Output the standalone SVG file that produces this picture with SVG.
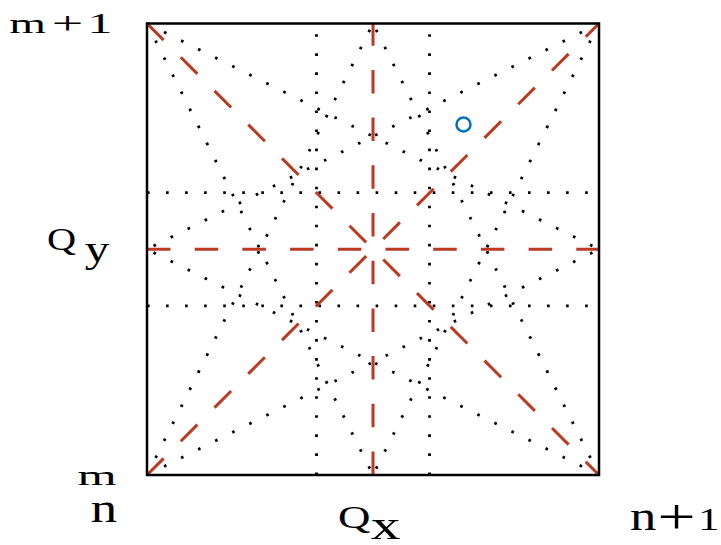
<svg xmlns="http://www.w3.org/2000/svg" width="721" height="545" viewBox="0 0 721 545">
<style>
.bg{fill:#ffffff}
.frame{fill:none;stroke:#000;stroke-width:2.5}
.red{fill:none;stroke:#BD3A22;stroke-width:3;stroke-dasharray:23.5 24.2}
.dot{fill:none;stroke:#000;stroke-width:2.8;stroke-dasharray:2.6 16.45}
.lbl{font-family:"Liberation Serif","DejaVu Serif",serif;fill:#000}
.mk{fill:none;stroke:#0072BD;stroke-width:2.5}
</style>
<rect class="bg" x="0" y="0" width="721" height="545"/>
<g id="connectors">
  <g id="grid-dotted">
    <line class="dot" x1="316.5" y1="475" x2="316.5" y2="23.5"/>
    <line class="dot" x1="429.5" y1="475" x2="429.5" y2="23.5"/>
    <line class="dot" x1="147" y1="192.6" x2="599" y2="192.6"/>
    <line class="dot" x1="147" y1="305.9" x2="599" y2="305.9"/>
  </g>
  <g id="star-dotted">
    <line class="dot" x1="147" y1="23.5" x2="599" y2="249.25"/>
    <line class="dot" x1="147" y1="23.5" x2="373" y2="475"/>
    <line class="dot" x1="599" y1="23.5" x2="147" y2="249.25"/>
    <line class="dot" x1="599" y1="23.5" x2="373" y2="475"/>
    <line class="dot" x1="147" y1="475" x2="373" y2="23.5"/>
    <line class="dot" x1="147" y1="475" x2="599" y2="249.25"/>
    <line class="dot" x1="599" y1="475" x2="373" y2="23.5"/>
    <line class="dot" x1="599" y1="475" x2="147" y2="249.25"/>
  </g>
  <g id="red-dashed">
    <line class="red" x1="147" y1="249.25" x2="599" y2="249.25"/>
    <line class="red" x1="373" y1="475" x2="373" y2="23.5"/>
    <line class="red" x1="147" y1="23.5" x2="599" y2="475"/>
    <line class="red" x1="147" y1="475" x2="599" y2="23.5"/>
  </g>
</g>
<g id="frame">
  <rect class="frame" x="147" y="23.5" width="452" height="451.5"/>
</g>
<g id="marker">
  <circle class="mk" cx="463.5" cy="124.5" r="7"/>
</g>
<g id="labels">
  <text class="lbl" transform="scale(1.75,1)" y="33"><tspan x="5.28" y="33" font-size="27">m</tspan><tspan x="29.57" y="33.9" font-size="32">+</tspan><tspan x="49.8" y="33" font-size="29">1</tspan></text>
  <text class="lbl" transform="scale(1.3,1)" y="250"><tspan x="36.23" y="250" font-size="31">Q</tspan><tspan x="65.2" y="262" font-size="38">y</tspan></text>
  <text class="lbl" transform="scale(1.45,1)" y="528.3"><tspan x="233.09" y="528.3" font-size="31">Q</tspan><tspan x="255.7" y="539.3" font-size="41">x</tspan></text>
  <text class="lbl" transform="scale(1.9,1)" x="40.8" y="485" font-size="26.5">m</text>
  <text class="lbl" transform="scale(1.32,1)" x="68.83" y="521.7" font-size="40">n</text>
  <text class="lbl" transform="scale(1.35,1)" y="530"><tspan x="466.6" y="530" font-size="39">n</tspan><tspan x="487.1" y="534.15" font-size="50">+</tspan><tspan x="517.1" y="530" font-size="32">1</tspan></text>
</g>
</svg>
